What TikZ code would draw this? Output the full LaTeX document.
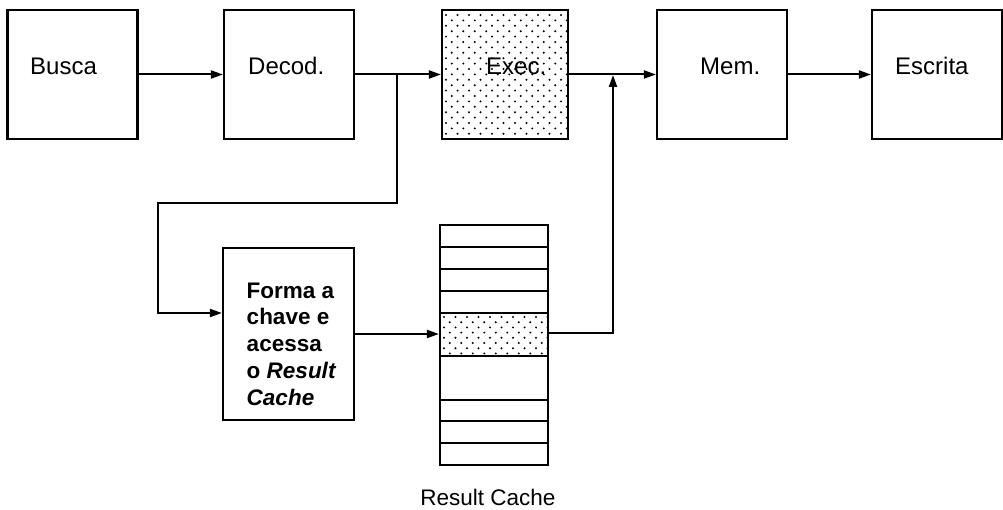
\documentclass[tikz,border=0pt]{standalone}
\usepackage{fontspec}
\setmainfont{Liberation Sans}
\usetikzlibrary{arrows.meta,calc}
\tikzset{
  box/.style={draw,line width=2.2pt,minimum width=130pt,minimum height=129pt,inner sep=0pt},
  lbl/.style={anchor=base west,inner sep=0pt,font=\fontsize{24}{28}\selectfont},
  arr/.style={line width=2pt,-{Triangle[length=12pt,width=8pt]}},
  ln/.style={line width=2.2pt}
}
\begin{document}
\begin{tikzpicture}[x=1pt,y=-1pt]
\useasboundingbox (0,0) rectangle (1003,510);
% top boxes
\node[box] (busca) at (72.5,74.5) {};
\node[box] (decod) at (289,74.5) {};
\node[box,minimum width=126pt] (exec) at (505,74.5) {};
\node[box] (mem) at (722,74.5) {};
\node[box] (escrita) at (937,74.5) {};
% dotted fill of Exec
\begin{scope}
\clip (443,11) rectangle (567,138);
\foreach \j in {0,...,24}{
  \foreach \i in {0,...,12}{
    \fill ({446+\i*11.5+mod(\j,2)*5.75},{15+\j*5.4}) circle (1.1pt);
  }
}
\end{scope}
% labels
\node[lbl] (tbusca) at (30,75) {Busca};
\node[lbl] (tdecod) at (248,75) {Decod.};
\node[lbl] (texec) at (486,75) {Exec.};
\node[lbl] (tmem) at (700,75) {Mem.};
\node[lbl] (tescrita) at (895,75) {Escrita};
% Forma box
\node[box,minimum width=131pt,minimum height=172pt] (forma) at (288.5,334) {};
\node[align=left,inner sep=0pt,font=\fontsize{22.5}{26.8}\selectfont\bfseries] (tforma)
      at ($(forma.center)+(3,10)$)
      {Forma a\\chave e\\acessa\\o \textit{Result}\\\textit{Cache}};
% Result cache table
\node[draw,line width=2.2pt,minimum width=108pt,minimum height=240pt,inner sep=0pt] (cache) at (494,345) {};
\begin{scope}
\clip (441,314) rectangle (547,355);
\foreach \j in {0,...,8}{
  \foreach \i in {0,...,10}{
    \fill ({444+\i*11.5+mod(\j,2)*5.75},{317+\j*5.2}) circle (1.1pt);
  }
}
\end{scope}
\foreach \yy in {247,269,291,313,356,400,421,443}{
  \draw[ln] (cache.west |- 0,\yy) -- (cache.east |- 0,\yy);
}
\node[anchor=base,inner sep=0pt,font=\fontsize{22.5}{27}\selectfont] (tcache) at (488,505) {Result Cache};
% connectors
\coordinate (br) at (397,75);
\coordinate (k1) at (158,203);
\coordinate (jn) at (613,75);
\coordinate (k2) at (613,333);
\draw[arr] (busca.east) -- (decod.west);
\draw[arr] (decod.east) -- (exec.west);
\draw[arr] (exec.east) -- (mem.west);
\draw[arr] (mem.east) -- (escrita.west);
\draw[arr] (br) |- (k1) |- ([yshift=21pt]forma.west);
\draw[arr] (forma.east) -- (cache.west |- forma.east);
\draw[arr] (cache.east |- k2) -- (k2) -- (jn);
\end{tikzpicture}
\end{document}
